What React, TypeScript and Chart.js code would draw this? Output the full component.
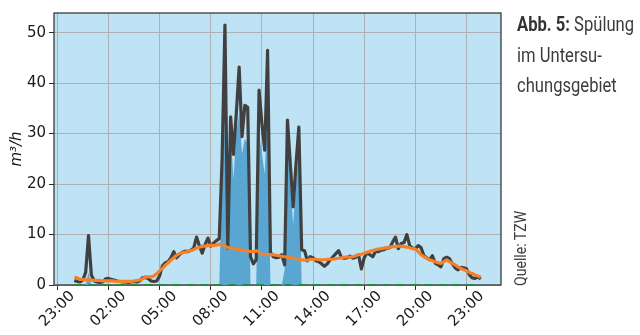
import React, { useEffect, useRef } from "react";
import { Chart, registerables } from "chart.js";

Chart.register(...registerables);

// 10-minute samples starting 00:00
const STEP_MINUTES = 10;

// measured flow (dark line), m³/h
const flowTotal = [
  0.9, 0.7, 0.6, 1.0, 2.5, 9.8, 2.0, 0.8, 0.6, 0.5,
  0.6, 1.2, 1.3, 1.1, 1.0, 0.8, 0.7, 0.6, 0.6, 0.5,
  0.6, 0.7, 0.6, 0.8, 1.4, 1.5, 1.3, 0.8, 0.7, 0.8,
  1.8, 3.8, 4.4, 4.6, 5.4, 6.6, 5.4, 6.0, 6.5, 6.7,
  6.6, 6.9, 7.3, 9.5, 7.8, 6.3, 8.0, 9.3, 7.7, 8.3,
  8.8, 9.2, 25.0, 51.5, 7.3, 33.3, 25.9, 34.0, 43.2, 29.4,
  35.6, 35.2, 5.6, 4.2, 5.0, 38.6, 32.0, 26.7, 46.5, 6.5,
  5.6, 5.4, 5.5, 6.0, 4.0, 32.7, 24.0, 15.5, 24.0, 31.3,
  7.0, 6.8, 4.8, 5.6, 5.4, 4.8, 4.6, 4.2, 3.7, 4.2,
  5.0, 5.6, 6.2, 6.8, 5.4, 5.3, 5.4, 5.7, 5.3, 5.5,
  6.0, 3.2, 5.4, 6.4, 6.0, 5.6, 6.7, 6.6, 6.9, 7.0,
  7.3, 7.4, 8.5, 9.5, 7.2, 8.2, 8.4, 10.0, 7.8, 7.3,
  7.2, 7.8, 7.4, 5.8, 5.4, 5.0, 5.8, 4.3, 4.0, 3.6,
  5.2, 5.5, 5.2, 4.2, 3.4, 3.0, 3.5, 3.4, 3.2, 2.0,
  1.4, 1.3, 1.6, 1.2,
];

// smoothed flow (orange line)
const flowMean = [
  1.5, 1.4, 1.1, 1.1, 1.0, 1.0, 1.0, 0.9, 0.9, 0.9,
  0.8, 0.8, 0.8, 0.8, 0.8, 0.7, 0.7, 0.7, 0.7, 0.7,
  0.7, 0.8, 0.9, 1.0, 1.2, 1.6, 1.6, 1.6, 1.8, 2.2,
  2.8, 3.3, 3.9, 4.4, 4.9, 5.4, 5.9, 6.2, 6.4, 6.5,
  6.7, 6.8, 7.0, 7.3, 7.5, 7.7, 7.7, 7.8, 7.9, 7.8,
  7.9, 8.1, 8.0, 7.7, 7.4, 7.3, 7.2, 7.1, 7.0, 6.9,
  6.8, 6.7, 6.6, 6.6, 6.8, 6.5, 6.1, 6.0, 6.0, 6.0,
  6.0, 5.9, 5.8, 5.7, 5.6, 5.5, 5.4, 5.3, 5.2, 5.1,
  5.0, 4.9, 4.9, 5.1, 5.1, 5.1, 5.0, 5.0, 5.0, 5.1,
  5.1, 5.1, 5.2, 5.3, 5.4, 5.5, 5.6, 5.5, 5.6, 5.8,
  6.0, 6.1, 6.3, 6.5, 6.7, 6.8, 7.0, 7.1, 7.2, 7.3,
  7.4, 7.5, 7.6, 7.6, 7.7, 7.7, 7.6, 7.5, 7.4, 7.2,
  7.1, 6.6, 6.0, 5.6, 5.3, 5.0, 4.8, 4.6, 4.4, 4.3,
  4.6, 5.0, 4.6, 4.3, 4.0, 3.6, 3.3, 3.0, 2.8, 2.5,
  2.3, 2.0, 1.8, 1.5,
];

// flushing share (filled blue area)
const flushFlow = [
  0, 0, 0, 0, 0, 2.5, 0, 0, 0, 0,
  0, 0, 0, 0, 0, 0, 0, 0, 0, 0,
  0, 0, 0, 0, 0, 0, 0, 0, 0, 0,
  0, 0, 0, 0, 0, 0, 0, 0, 0, 0,
  0, 0, 0, 0, 0, 0, 0, 0, 0, 0,
  0, 0, 22, 32, 15, 30, 21, 30, 34, 26,
  29, 28, 0, 0, 0, 30, 26, 22, 36, 0,
  0, 0, 0, 0, 3, 28, 20, 12, 20, 27,
  0, 0, 0, 0, 0, 0, 0, 0, 0, 0,
  0, 0, 0, 0, 0, 0, 0, 0, 0, 0,
  0, 0, 0, 0, 0, 0, 0, 0, 0, 0,
  0, 0, 0, 0, 0, 0, 0, 0, 0, 0,
  0, 0, 0, 0, 0, 0, 0, 0, 0, 0,
  0, 0, 0, 0, 0, 0, 0, 0, 0, 0,
  0, 0, 0, 0,
];

// zero reference (green dashed)
const zeroLine = [0, 0];

const xTickHours = [-1, 2, 5, 8, 11, 14, 17, 20, 23];
const xTickLabels = ["23:00", "02:00", "05:00", "08:00", "11:00", "14:00", "17:00", "20:00", "23:00"];
const yTicks = [0, 10, 20, 30, 40, 50];

const X_MIN = -1.19;
const X_MAX = 25.02;
const Y_MIN = 0;
const Y_MAX = 53.9;

const hours = flowTotal.map((_, i) => (i * STEP_MINUTES) / 60);
const pts = (arr: number[]) => arr.map((v, i) => ({ x: hours[i], y: v }));

const framePlugin = {
  id: "frame",
  beforeDraw(chart: any) {
    const { ctx, chartArea: a } = chart;
    ctx.save();
    ctx.fillStyle = "#bee3f4";
    ctx.fillRect(a.left, a.top, a.right - a.left, a.bottom - a.top);
    ctx.restore();
  },
  beforeDatasetsDraw(chart: any) {
    const { ctx, chartArea: a } = chart;
    ctx.save();
    ctx.strokeStyle = "#2b2b2b";
    ctx.lineWidth = 1.2;
    ctx.strokeRect(a.left, a.top, a.right - a.left, a.bottom - a.top);
    ctx.restore();
  },
  afterDraw(chart: any) {
    const { ctx, chartArea: a } = chart;
    ctx.save();
    const xs = chart.scales.x;
    ctx.font = '15px "DejaVu Sans"';
    ctx.fillStyle = "#1a1a1a";
    ctx.textAlign = "center";
    ctx.textBaseline = "middle";
    xTickHours.forEach((h, i) => {
      const px = xs.getPixelForValue(h);
      ctx.save();
      ctx.translate(px, a.bottom + 24);
      ctx.rotate(-Math.PI / 4);
      ctx.fillText(xTickLabels[i], 0, 0);
      ctx.restore();
    });
    ctx.restore();
  },
};

export default function App() {
  const ref = useRef<HTMLCanvasElement | null>(null);

  useEffect(() => {
    if (!ref.current) return;
    const chart = new Chart(ref.current, {
      type: "line",
      data: {
        datasets: [
          {
            label: "Spülung",
            data: pts(flushFlow),
            borderWidth: 0,
            backgroundColor: "#5aa6d3",
            fill: "origin",
            pointRadius: 0,
            order: 4,
          },
          {
            label: "Null",
            data: [
              { x: hours[0], y: zeroLine[0] },
              { x: hours[hours.length - 1], y: zeroLine[1] },
            ],
            borderColor: "#1f8a3a",
            borderDash: [8, 6],
            borderWidth: 2.2,
            pointRadius: 0,
            fill: false,
            clip: 6,
            order: 3,
          },
          {
            label: "Durchfluss",
            data: pts(flowTotal),
            borderColor: "#404040",
            borderWidth: 3.2,
            borderJoinStyle: "round",
            pointRadius: 0,
            fill: false,
            order: 2,
          },
          {
            label: "Mittel",
            data: pts(flowMean),
            borderColor: "#f5802a",
            borderWidth: 3.2,
            borderJoinStyle: "round",
            pointRadius: 0,
            fill: false,
            order: 1,
          },
        ],
      },
      options: {
        animation: false,
        responsive: false,
        devicePixelRatio: 1,
        layout: { padding: { left: 0, top: 13, right: 139, bottom: 0 } },
        plugins: { legend: { display: false }, tooltip: { enabled: false } },
        scales: {
          x: {
            type: "linear",
            min: X_MIN,
            max: X_MAX,
            afterBuildTicks: (scale: any) => {
              scale.ticks = xTickHours.map((v) => ({ value: v }));
            },
            afterFit: (scale: any) => {
              scale.height = 50;
            },
            ticks: { display: false },
            grid: { color: "#b0b0b0", lineWidth: 1, drawTicks: true, tickLength: 5, tickColor: "#2b2b2b" },
            border: { display: false },
          },
          y: {
            type: "linear",
            min: Y_MIN,
            max: Y_MAX,
            afterBuildTicks: (scale: any) => {
              scale.ticks = yTicks.map((v) => ({ value: v }));
            },
            afterFit: (scale: any) => {
              scale.width = 54;
            },
            ticks: {
              font: { family: "DejaVu Sans", size: 15 },
              color: "#1a1a1a",
              padding: 3,
            },
            grid: { color: "#b0b0b0", lineWidth: 1, drawTicks: true, tickLength: 5, tickColor: "#2b2b2b" },
            border: { display: false },
            title: {
              display: true,
              text: "m³/h",
              font: { family: "DejaVu Sans", size: 15, style: "italic" },
              color: "#1a1a1a",
              padding: { top: 8, bottom: 0 },
            },
          },
        },
      },
      plugins: [framePlugin],
    });
    return () => chart.destroy();
  }, []);

  const txt: React.CSSProperties = {
    position: "absolute",
    fontFamily: "Roboto, sans-serif",
    fontSize: 20,
    color: "#3c3c3c",
    whiteSpace: "nowrap",
    transformOrigin: "0 0",
    transform: "scaleX(0.83)",
    lineHeight: "20px",
  };

  return (
    <div style={{ position: "absolute", left: 0, top: 0, width: 640, height: 335, background: "#fff" }}>
      <canvas ref={ref} width={640} height={335} style={{ display: "block", width: 640, height: 335 }} />
      <div style={{ ...txt, left: 517, top: 14 }}>
        <span style={{ fontWeight: 700, color: "#333" }}>Abb. 5:</span> Spülung
      </div>
      <div style={{ ...txt, left: 517, top: 45 }}>im Untersu-</div>
      <div style={{ ...txt, left: 517, top: 75 }}>chungsgebiet</div>
      <div
        style={{
          position: "absolute",
          left: 513,
          top: 286,
          fontFamily: "Roboto, sans-serif",
          fontSize: 16,
          color: "#3c3c3c",
          whiteSpace: "nowrap",
          lineHeight: "16px",
          transformOrigin: "0 0",
          transform: "rotate(-90deg) scaleX(0.88)",
        }}
      >
        Quelle: TZW
      </div>
    </div>
  );
}
